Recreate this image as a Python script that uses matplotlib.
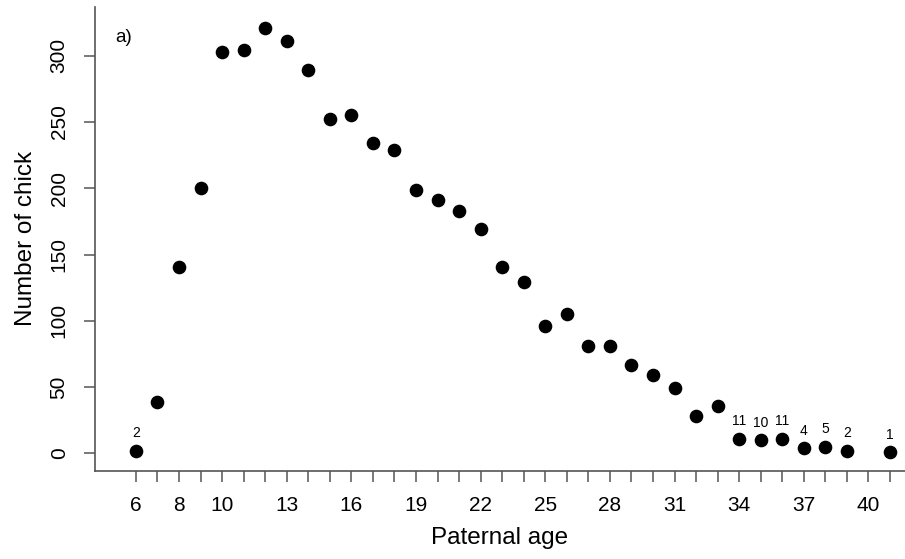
import numpy as np
import matplotlib
matplotlib.use('Agg')
import matplotlib.pyplot as plt

plt.rcParams['font.family'] = ['Liberation Sans', 'DejaVu Sans']

# Chick counts by paternal age
age = [6, 7, 8, 9, 10, 11, 12, 13, 14, 15, 16, 17, 18, 19, 20, 21, 22, 23, 24,
       25, 26, 27, 28, 29, 30, 31, 32, 33, 34, 35, 36, 37, 38, 39, 41]
n_chick = [2, 39, 141, 200, 303, 304, 321, 311, 289, 252, 255, 234, 229, 199,
           191, 183, 169, 141, 129, 96, 105, 81, 81, 67, 59, 49, 28, 36,
           11, 10, 11, 4, 5, 2, 1]

# small counts written above the points
labelled_ages = [6, 34, 35, 36, 37, 38, 39, 41]

xtick_labels = [6, 8, 10, 13, 16, 19, 22, 25, 28, 31, 34, 37, 40]
ytick_vals = [0, 50, 100, 150, 200, 250, 300]

fig = plt.figure(figsize=(9.05, 5.59), dpi=100)
ax = fig.add_axes([0.105, 0.158, 0.895, 0.83])

ax.plot(age, n_chick, 'o', color='black', markersize=8.8, clip_on=False)

for a, n in zip(age, n_chick):
    if a in labelled_ages:
        ax.annotate(str(n), (a, n), xytext=(0, 7.5), textcoords='offset points',
                    ha='center', va='bottom', fontsize=10)

ax.text(5.05, 314, 'a)', fontsize=13.5, ha='left', va='center')

ax.set_xlim(4.1, 41.7)
ax.set_ylim(-13, 337)

ax.set_xticks(np.arange(6, 42))
ax.set_xticklabels([str(v) if v in xtick_labels else '' for v in range(6, 42)])
ax.set_yticks(ytick_vals)
ax.set_yticklabels([str(v) for v in ytick_vals], rotation=90, va='center')

ax.tick_params(axis='both', direction='out', length=8, width=1.1,
               color='#555555', labelsize=15)
ax.tick_params(axis='x', pad=10)
ax.tick_params(axis='y', pad=11)

for side in ['top', 'right']:
    ax.spines[side].set_visible(False)
for side in ['left', 'bottom']:
    ax.spines[side].set_color('#555555')
    ax.spines[side].set_linewidth(1.2)

ax.set_xlabel('Paternal age', fontsize=17.5, labelpad=9)
ax.set_ylabel('Number of chick', fontsize=17.5, labelpad=9)

plt.savefig('out.png', dpi=100)
